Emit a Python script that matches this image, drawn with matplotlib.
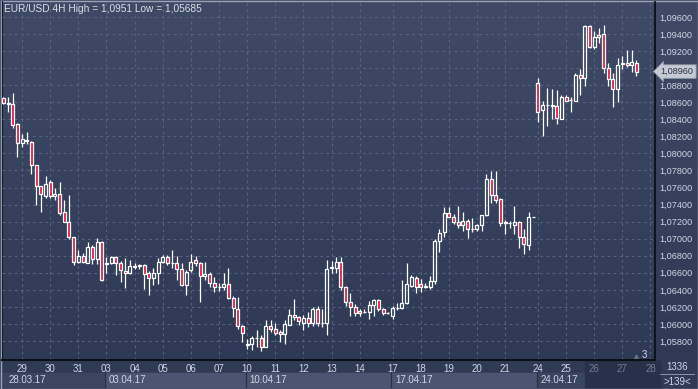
import numpy as np
import matplotlib.pyplot as plt
from matplotlib.patches import Rectangle
from matplotlib.transforms import blended_transform_factory

# EUR/USD 4H candles, 28.03.17 - 27.04.17
opens = [1.0865, 1.0858, 1.0858, 1.0834, 1.0812, 1.0815, 1.0813, 1.0786, 1.0762, 1.0750,
         1.0766, 1.0750, 1.0752, 1.0731, 1.0720, 1.0702, 1.0673, 1.0680, 1.0672, 1.0690,
         1.0676, 1.0696, 1.0670, 1.0671, 1.0678, 1.0671, 1.0662, 1.0660, 1.0667, 1.0668,
         1.0669, 1.0660, 1.0654, 1.0660, 1.0673, 1.0678, 1.0672, 1.0672, 1.0665, 1.0646,
         1.0663, 1.0675, 1.0672, 1.0656, 1.0658, 1.0648, 1.0643, 1.0643, 1.0647, 1.0631,
         1.0618, 1.0598, 1.0577, 1.0576, 1.0584, 1.0584, 1.0573, 1.0598, 1.0594, 1.0590,
         1.0588, 1.0599, 1.0611, 1.0608, 1.0601, 1.0607, 1.0601, 1.0617, 1.0601, 1.0601,
         1.0666, 1.0666, 1.0673, 1.0643, 1.0626, 1.0620, 1.0615, 1.0614, 1.0614, 1.0622,
         1.0628, 1.0617, 1.0613, 1.0609, 1.0619, 1.0619, 1.0624, 1.0645, 1.0654, 1.0647,
         1.0643, 1.0643, 1.0650, 1.0697, 1.0708, 1.0730, 1.0726, 1.0719, 1.0716, 1.0721,
         1.0711, 1.0711, 1.0716, 1.0728, 1.0770, 1.0751, 1.0746, 1.0718, 1.0718, 1.0716,
         1.0720, 1.0702, 1.0693, 1.0725, 1.0883, 1.0851, 1.0857, 1.0857, 1.0856, 1.0840,
         1.0866, 1.0863, 1.0862, 1.0892, 1.0889, 1.0950, 1.0925, 1.0937, 1.0940, 1.0900,
         1.0887, 1.0875, 1.0905, 1.0906, 1.0904, 1.0906]
highs = [1.0866, 1.0866, 1.0871, 1.0836, 1.0823, 1.0825, 1.0815, 1.0787, 1.0762, 1.0773,
         1.0769, 1.0759, 1.0766, 1.0745, 1.0751, 1.0702, 1.0687, 1.0683, 1.0696, 1.0693,
         1.0701, 1.0697, 1.0678, 1.0680, 1.0680, 1.0674, 1.0677, 1.0675, 1.0672, 1.0670,
         1.0670, 1.0662, 1.0666, 1.0677, 1.0681, 1.0681, 1.0687, 1.0680, 1.0672, 1.0663,
         1.0682, 1.0680, 1.0673, 1.0673, 1.0661, 1.0655, 1.0648, 1.0660, 1.0666, 1.0633,
         1.0632, 1.0599, 1.0582, 1.0586, 1.0593, 1.0587, 1.0605, 1.0605, 1.0601, 1.0593,
         1.0605, 1.0618, 1.0629, 1.0609, 1.0610, 1.0614, 1.0620, 1.0621, 1.0618, 1.0675,
         1.0674, 1.0678, 1.0678, 1.0645, 1.0636, 1.0623, 1.0618, 1.0618, 1.0627, 1.0629,
         1.0629, 1.0619, 1.0614, 1.0621, 1.0625, 1.0651, 1.0671, 1.0657, 1.0656, 1.0653,
         1.0648, 1.0656, 1.0700, 1.0711, 1.0737, 1.0737, 1.0729, 1.0738, 1.0731, 1.0723,
         1.0724, 1.0717, 1.0728, 1.0776, 1.0779, 1.0779, 1.0748, 1.0722, 1.0721, 1.0738,
         1.0721, 1.0711, 1.0731, 1.0725, 1.0889, 1.0861, 1.0877, 1.0876, 1.0874, 1.0869,
         1.0869, 1.0866, 1.0894, 1.0899, 1.0951, 1.0951, 1.0944, 1.0947, 1.0951, 1.0906,
         1.0894, 1.0912, 1.0914, 1.0921, 1.0921, 1.0909]
lows = [1.0858, 1.0848, 1.0830, 1.0796, 1.0807, 1.0811, 1.0776, 1.0739, 1.0731, 1.0748,
        1.0748, 1.0745, 1.0728, 1.0719, 1.0700, 1.0669, 1.0672, 1.0672, 1.0671, 1.0670,
        1.0670, 1.0650, 1.0660, 1.0670, 1.0657, 1.0649, 1.0642, 1.0658, 1.0664, 1.0664,
        1.0641, 1.0634, 1.0646, 1.0647, 1.0671, 1.0669, 1.0666, 1.0652, 1.0644, 1.0634,
        1.0661, 1.0668, 1.0626, 1.0652, 1.0643, 1.0637, 1.0639, 1.0640, 1.0629, 1.0608,
        1.0594, 1.0579, 1.0571, 1.0570, 1.0573, 1.05685, 1.0573, 1.0590, 1.0587, 1.0579,
        1.0576, 1.0599, 1.0605, 1.0599, 1.0593, 1.0596, 1.0597, 1.0597, 1.0596, 1.0587,
        1.0660, 1.0660, 1.0640, 1.0621, 1.0609, 1.0609, 1.0609, 1.0613, 1.0606, 1.0609,
        1.0615, 1.0610, 1.0612, 1.0606, 1.0616, 1.0617, 1.0623, 1.0643, 1.0636, 1.0637,
        1.0642, 1.0641, 1.0647, 1.0684, 1.0702, 1.0726, 1.0717, 1.0713, 1.0709, 1.0701,
        1.0708, 1.0709, 1.0709, 1.0727, 1.0742, 1.0742, 1.0715, 1.0706, 1.0713, 1.0706,
        1.0689, 1.0682, 1.0687, 1.0725, 1.0837, 1.0820, 1.0832, 1.0840, 1.0834, 1.0840,
        1.0861, 1.0849, 1.0862, 1.0869, 1.0879, 1.0924, 1.0922, 1.0930, 1.0894, 1.0879,
        1.0855, 1.0860, 1.0899, 1.0901, 1.0895, 1.0891]
closes = [1.0859, 1.0859, 1.0833, 1.0812, 1.0817, 1.0816, 1.0786, 1.0762, 1.0752, 1.0764,
          1.0750, 1.0752, 1.0730, 1.0720, 1.0702, 1.0673, 1.0680, 1.0673, 1.0690, 1.0676,
          1.0696, 1.0652, 1.0671, 1.0678, 1.0671, 1.0663, 1.0660, 1.0668, 1.0668, 1.0669,
          1.0659, 1.0654, 1.0660, 1.0673, 1.0678, 1.0672, 1.0672, 1.0665, 1.0646, 1.0661,
          1.0673, 1.0672, 1.0656, 1.0658, 1.0648, 1.0643, 1.0643, 1.0647, 1.0631, 1.0619,
          1.0598, 1.0589, 1.0575, 1.0584, 1.0584, 1.0573, 1.0598, 1.0594, 1.0589, 1.0588,
          1.0600, 1.0610, 1.0608, 1.0603, 1.0607, 1.0601, 1.0617, 1.0601, 1.0601, 1.0664,
          1.0667, 1.0673, 1.0643, 1.0626, 1.0620, 1.0613, 1.0613, 1.0614, 1.0622, 1.0628,
          1.0617, 1.0613, 1.0613, 1.0619, 1.0619, 1.0624, 1.0647, 1.0655, 1.0643, 1.0643,
          1.0645, 1.0650, 1.0697, 1.0707, 1.0730, 1.0726, 1.0719, 1.0716, 1.0721, 1.0711,
          1.0711, 1.0716, 1.0728, 1.0770, 1.0751, 1.0745, 1.0718, 1.0720, 1.0718, 1.0720,
          1.0702, 1.0694, 1.0725, 1.0725, 1.0849, 1.0857, 1.0857, 1.0856, 1.0842, 1.0866,
          1.0862, 1.0863, 1.0892, 1.0889, 1.0950, 1.0925, 1.0937, 1.0939, 1.0900, 1.0887,
          1.0875, 1.0904, 1.0906, 1.0904, 1.0907, 1.0896]

day_labels = ['29', '30', '31', '03', '04', '05', '06', '07', '10', '11', '12', '13',
              '14', '17', '18', '19', '20', '21', '24', '25', '26', '27', '28']
day_pos = [4, 10, 16, 22, 28, 34, 40, 46, 52, 58, 64, 70, 76, 83, 89, 95, 101, 107,
           114, 120, 126, 132, 138]
week_labels = ['28.03.17', '03.04.17', '10.04.17', '17.04.17', '24.04.17']
week_pos = [0.7, 22, 52, 83, 114]
price_ticks = np.arange(1.058, 1.0965, 0.002)

title = 'EUR/USD 4H High = 1,0951 Low = 1,05685'

plt.rcParams['font.family'] = ['Liberation Sans', 'DejaVu Sans']

W, H = 698, 389
red = '#e2173d'
txt = '#cfd6e4'

fig = plt.figure(figsize=(W / 100, H / 100), dpi=100, facecolor='#2f3a55')

# background layer in pixel coordinates
bg = fig.add_axes([0, 0, 1, 1])
bg.set_xlim(0, W)
bg.set_ylim(H, 0)
bg.axis('off')
grad = np.linspace(0, 1, 256).reshape(-1, 1)
top_col = np.array([0x3f, 0x4a, 0x67]) / 255
bot_col = np.array([0x2e, 0x39, 0x55]) / 255
img = top_col + grad[:, :, None] * (bot_col - top_col)
bg.imshow(img, extent=(0, W, 361, 0), aspect='auto', zorder=0)

# main price axes
ax = fig.add_axes([2 / W, (H - 360) / H, 653 / W, 358 / H])
ax.patch.set_alpha(0)
n = len(opens)
ax.set_xlim(-0.28, 138.96)
ax.set_ylim(1.05577, 1.09776)

w = 0.64
for i in range(n):
    o, h, l, c = opens[i], highs[i], lows[i], closes[i]
    top, bot = max(o, c), min(o, c)
    ax.vlines(i, top, h, color='white', lw=0.9, zorder=3)
    ax.vlines(i, l, bot, color='white', lw=0.9, zorder=3)
    face = red if c < o else 'none'
    ax.add_patch(Rectangle((i - w / 2, bot), w, top - bot, facecolor=face,
                           edgecolor='white', lw=0.9, zorder=4))

ax.set_xticks(day_pos)
ax.set_xticklabels(day_labels)
ax.yaxis.tick_right()
ax.set_yticks(price_ticks)
ax.set_yticklabels([f'{v:.5f}'.replace('.', ',') for v in price_ticks])
ax.tick_params(axis='x', length=0, pad=2.6, labelsize=7, labelcolor=txt)
ax.tick_params(axis='y', length=0, pad=3, labelsize=6.6, labelcolor=txt)
for lab in ax.get_xticklabels()[-3:]:
    lab.set_color('#727c90')
ax.grid(True, color='#56627e', lw=0.8, ls=(0, (2.5, 3)), zorder=1)
for side in ['top', 'left']:
    ax.spines[side].set_visible(False)
ax.spines['bottom'].set_color('#0c0f16')
ax.spines['bottom'].set_linewidth(1.5)
ax.spines['right'].set_color('#0c0f16')
ax.spines['right'].set_linewidth(1.3)

# current price tag (covers the 1,09000 label as in the terminal)
ax.annotate(f'{closes[-1]:.5f}'.replace('.', ','), xy=(1, closes[-1]),
            xycoords=('axes fraction', 'data'), xytext=(4.2, 0),
            textcoords='offset points', ha='left', va='center', fontsize=6.6,
            color='#2a3242', zorder=6, annotation_clip=False,
            bbox=dict(boxstyle='larrow,pad=0.25', fc='#c5cad3', ec='#8d95a3', lw=0.6))

# bottom date bars
xb = blended_transform_factory(ax.transData, bg.transData)
bg.add_patch(Rectangle((0, 361), W, 28, color='#2f3a55', zorder=1))
bg.add_patch(Rectangle((0, 373), 655, 14, color='#3a4560', zorder=1))
bg.add_patch(Rectangle((week_pos[1] - 0.3, 373), week_pos[4] - week_pos[1], 14,
                       color='#4a5571', zorder=2, transform=xb))
for p in week_pos[1:]:
    bg.plot([p - 0.3, p - 0.3], [373, 387], color='#27304a', lw=0.9, zorder=3,
            transform=xb)
bg.add_patch(Rectangle((124, 361), 16, 26.5, color='#283149', zorder=2, transform=xb))
for p, lab in zip(week_pos, week_labels):
    bg.text(p + 0.5, 380, lab, transform=xb, ha='left', va='center', fontsize=7,
            color=txt, zorder=4)

# right bottom box
bg.text(677, 367, '1336', ha='center', va='center', fontsize=7, color=txt)
bg.plot([660, 694], [373.5, 373.5], color='#8a93a5', lw=0.7)
bg.text(677, 382, '>139<', ha='center', va='center', fontsize=7, color=txt)
bg.text(644, 355, '3', ha='center', va='center', fontsize=7, color=txt, zorder=5)
bg.plot([636], [356.5], marker='^', ms=3.5, color='#6a7388', zorder=5)

fig.text(4 / W, 1 - 8.5 / H, title, ha='left', va='center', fontsize=7.3, color='#d9dde5')

# outer frame
bg.plot([0.5, W - 0.5, W - 0.5, 0.5, 0.5], [0.5, 0.5, H - 0.5, H - 0.5, 0.5],
        color='#9aa2b2', lw=1, zorder=10)
bg.plot([1.5, 1.5], [1, 360], color='#151a26', lw=0.8, zorder=10)

fig.savefig('out.png', dpi=100, facecolor=fig.get_facecolor())
